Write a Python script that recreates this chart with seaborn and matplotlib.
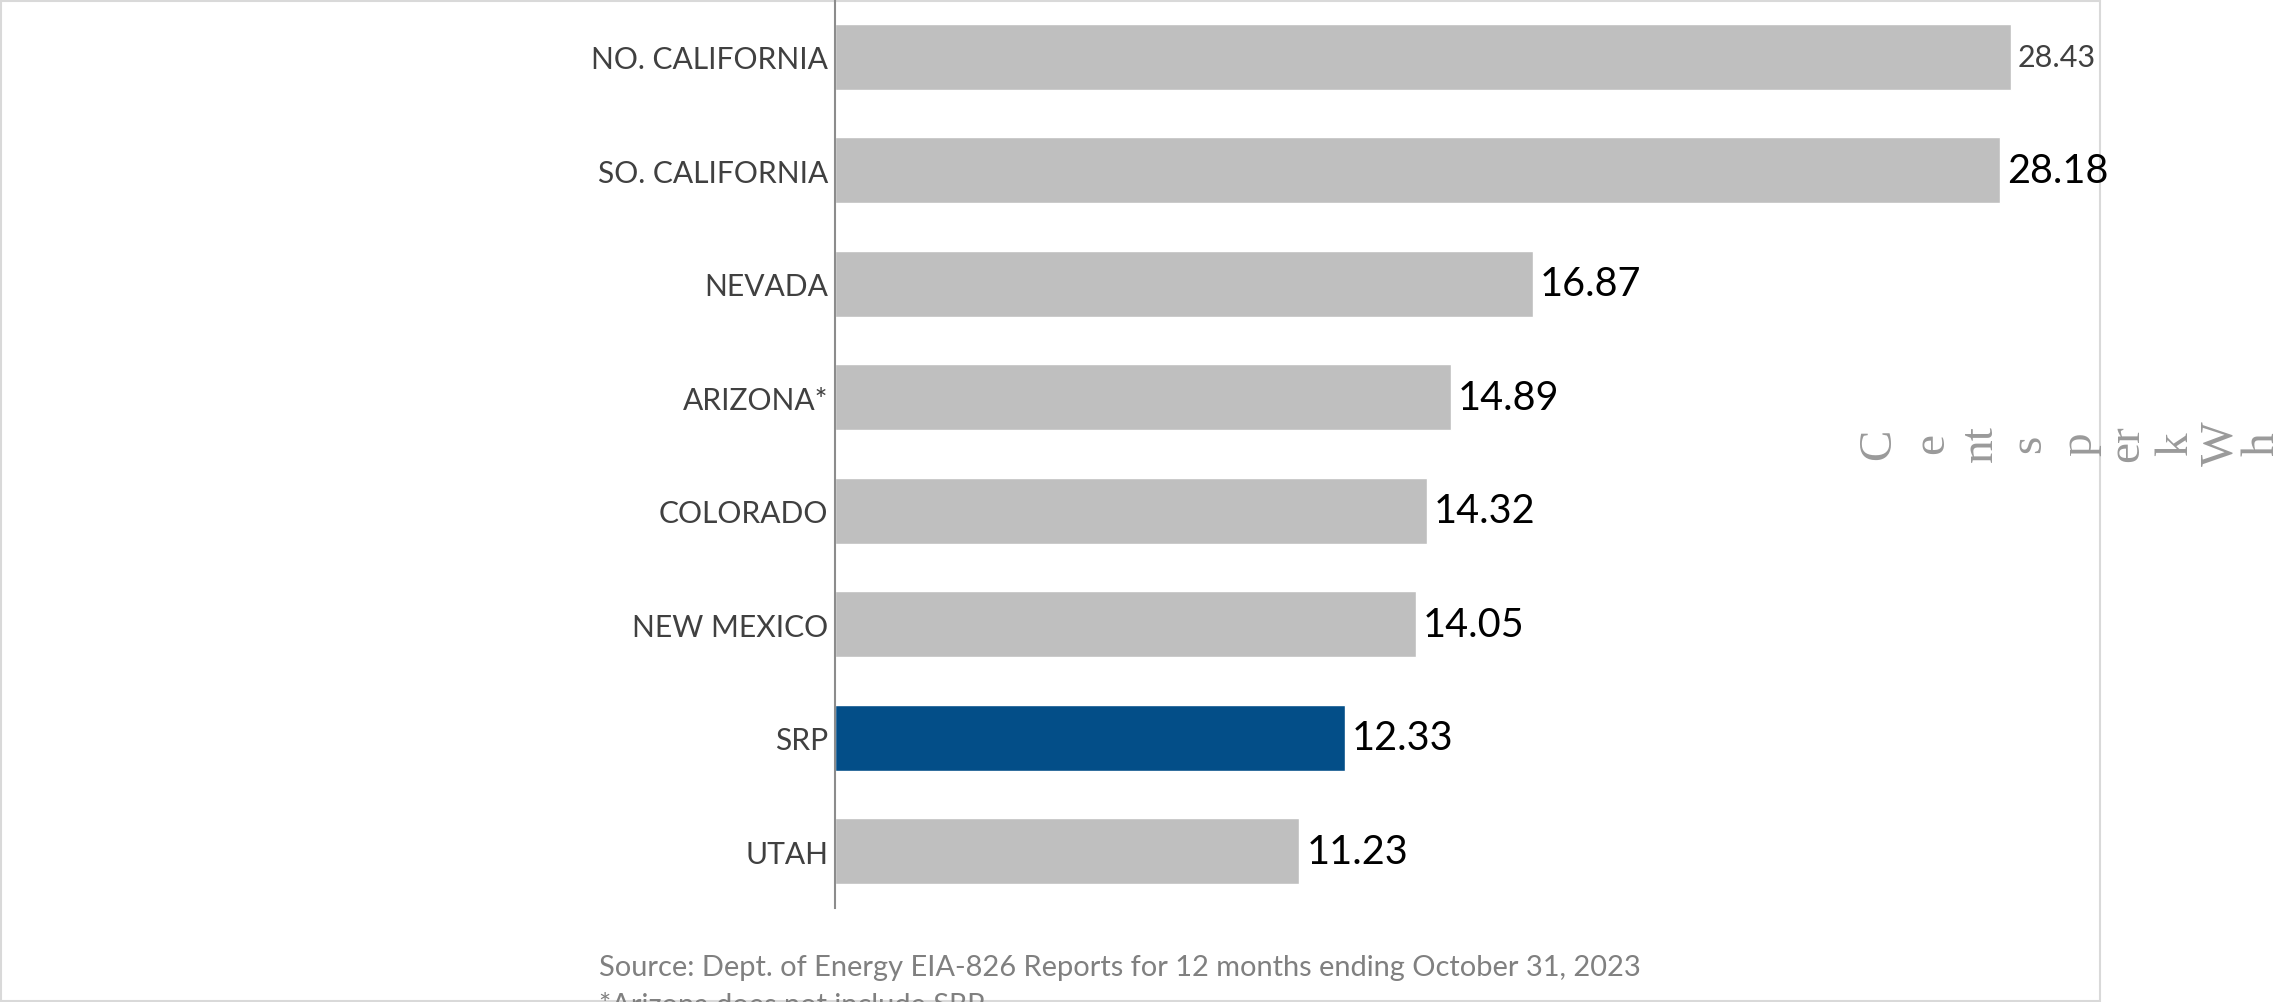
import matplotlib
matplotlib.use("Agg")
import matplotlib.pyplot as plt
import seaborn as sns
import pandas as pd
from matplotlib.patches import Rectangle

regions = ["NO. CALIFORNIA", "SO. CALIFORNIA", "NEVADA", "ARIZONA*", "COLORADO",
           "NEW MEXICO", "SRP", "UTAH"]
cents_per_kwh = [28.43, 28.18, 16.87, 14.89, 14.32, 14.05, 12.33, 11.23]
highlight = ["other", "other", "other", "other", "other", "other", "srp", "other"]
label_chunks = ["C", "e", "nt", "s", "p", "er", "k", "W", "h"]
source_lines = ["Source: Dept. of Energy EIA-826 Reports for 12 months ending October 31, 2023",
                "*Arizona does not include SRP"]

df = pd.DataFrame({"region": regions, "value": cents_per_kwh, "group": highlight})

sns.set_theme(style="white")
plt.rcParams['font.family'] = ['Lato', 'DejaVu Sans']

W, H = 2281, 1003
fig = plt.figure(figsize=(W / 100, H / 100), dpi=100)
fig.patch.set_facecolor("white")

# outer frame
fig.patches.append(Rectangle((1 / W, 1 / H), 2099 / W, 1 - 3 / H, transform=fig.transFigure,
                             fill=False, edgecolor="#d9d9d9", linewidth=1.5, zorder=-5))

ax = fig.add_axes([835 / W, 1 - 909 / H, (2100 - 835) / W, 908 / H])
ax.patch.set_alpha(0)
sns.barplot(data=df, y="region", x="value", hue="group", order=regions,
            palette={"other": "#bfbfbf", "srp": "#034e88"}, width=0.58,
            dodge=False, legend=False, ax=ax, saturation=1)
ax.set_xlim(0, (2100 - 835) / 41.35)
ax.set_ylim(len(regions) - 0.5, -0.5)
ax.set_xlabel("")
ax.set_ylabel("")
ax.set_xticks([])
for s in ["top", "right", "bottom"]:
    ax.spines[s].set_visible(False)
ax.spines["left"].set_color("#8c8c8c")
ax.spines["left"].set_linewidth(1.5)
ax.tick_params(axis="y", length=0, pad=5, labelsize=21.6, labelcolor="#404040")

for i, v in enumerate(cents_per_kwh):
    if i == 0:
        ax.annotate(f"{v:.2f}", (v, i), xytext=(5, 0), textcoords="offset points",
                    va="center", ha="left", fontsize=22, color="#404040",
                    annotation_clip=False, zorder=10)
    else:
        ax.annotate(f"{v:.2f}", (v, i), xytext=(5, 0), textcoords="offset points",
                    va="center", ha="left", fontsize=28.5, color="black",
                    annotation_clip=False, zorder=10)

# broken rotated axis title
xs = [1879, 1932, 1981, 2029, 2080, 2127, 2176, 2221, 2262]
for ch, x in zip(label_chunks, xs):
    fig.text(x / W, 1 - 444 / H, ch, rotation=90, ha="center", va="center",
             fontsize=34, color="#9a9a9a", family="Liberation Serif")

fig.text(599 / W, 1 - 968 / H, source_lines[0], ha="left", va="center",
         fontsize=20.9, color="#808080")
fig.text(599 / W, 1 - 1006 / H, source_lines[1], ha="left", va="center",
         fontsize=20.9, color="#808080")

fig.savefig("out.png", dpi=100, facecolor="white")
